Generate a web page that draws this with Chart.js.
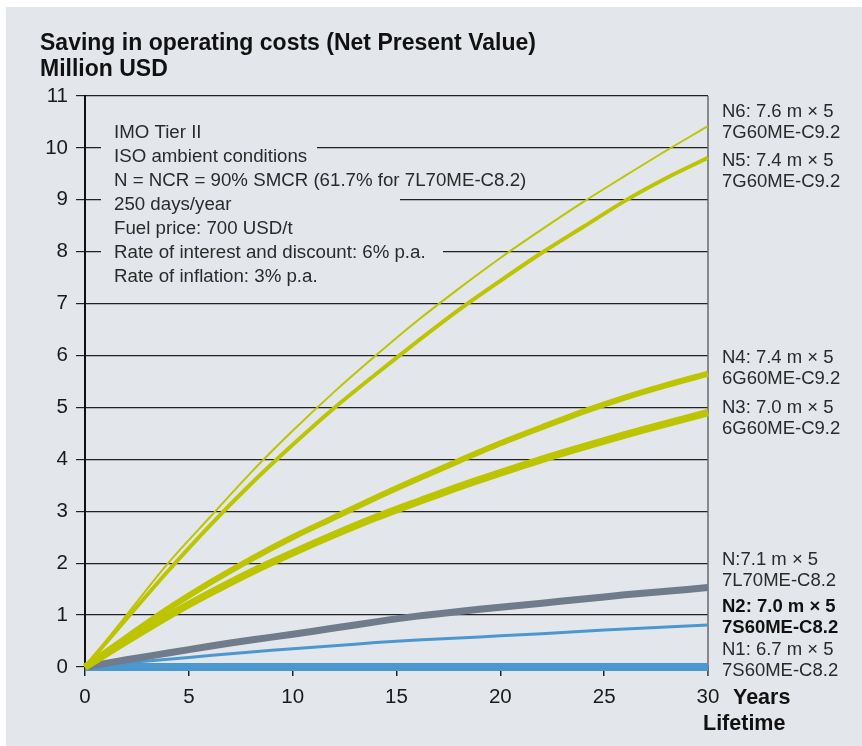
<!DOCTYPE html>
<html>
<head>
<meta charset="utf-8">
<script src="https://cdn.jsdelivr.net/npm/chart.js@4"></script>
<style>
  html, body { margin: 0; padding: 0; background: #fff; }
  #wrap { position: absolute; left: 0; top: 0; width: 862px; height: 746px; }
</style>
</head>
<body>
<div id="wrap"><canvas id="npv"></canvas></div>
<script>
// values (Million USD, net present value)
const years = [0, 2, 4, 6, 8, 10, 12, 14, 16, 18, 20, 22, 24, 26, 28, 30];
const n6 = [0, 1.0, 2.0, 2.88, 3.75, 4.55, 5.30, 6.0, 6.67, 7.29, 7.88, 8.43, 8.96, 9.46, 9.95, 10.42];
const n5 = [0, 0.93, 1.85, 2.72, 3.53, 4.28, 4.99, 5.64, 6.27, 6.88, 7.44, 7.98, 8.48, 8.98, 9.42, 9.81];
const n4 = [0, 0.57, 1.12, 1.62, 2.08, 2.5, 2.88, 3.26, 3.62, 3.97, 4.31, 4.62, 4.92, 5.19, 5.43, 5.65];
const n3 = [0, 0.5, 0.98, 1.42, 1.83, 2.2, 2.55, 2.88, 3.18, 3.47, 3.74, 4.0, 4.24, 4.47, 4.69, 4.9];
const nL70 = [0, 0.14, 0.27, 0.4, 0.52, 0.63, 0.75, 0.87, 0.98, 1.07, 1.15, 1.23, 1.31, 1.39, 1.46, 1.53];
const n2 = [0, 0.08, 0.15, 0.22, 0.29, 0.35, 0.41, 0.47, 0.52, 0.56, 0.6, 0.64, 0.69, 0.73, 0.77, 0.81];
const n1 = [0, 0, 0, 0, 0, 0, 0, 0, 0, 0, 0, 0, 0, 0, 0, 0];

const seriesNames = ["N6", "N5", "N4", "N3", "N 7L70", "N2", "N1"];
const xTicks = [0, 5, 10, 15, 20, 25, 30];
const yMax = 11;

const infoLines = [
  "IMO Tier II",
  "ISO ambient conditions",
  "N = NCR = 90% SMCR (61.7% for 7L70ME-C8.2)",
  "250 days/year",
  "Fuel price: 700 USD/t",
  "Rate of interest and discount: 6% p.a.",
  "Rate of inflation: 3% p.a."
];
const endLabels = [
  ["N6: 7.6 m \u00d7 5", "7G60ME-C9.2"],
  ["N5: 7.4 m \u00d7 5", "7G60ME-C9.2"],
  ["N4: 7.4 m \u00d7 5", "6G60ME-C9.2"],
  ["N3: 7.0 m \u00d7 5", "6G60ME-C9.2"],
  ["N:7.1 m \u00d7 5", "7L70ME-C8.2"],
  ["N2: 7.0 m \u00d7 5", "7S60ME-C8.2"],
  ["N1: 6.7 m \u00d7 5", "7S60ME-C8.2"]
];

const FONT = '"Liberation Sans", Arial, Helvetica, sans-serif';
const GREEN = "#bdc400";
const GREY = "#707b8b";
const BLUE = "#4a98cf";
const PANEL = "#e3e6eb";
const TXT = "#2a2a2a";

function pts(arr) {
  return years.map((y, i) => ({ x: y, y: arr[i] }));
}
function line(label, arr, color, width) {
  return {
    label: label,
    data: pts(arr),
    borderColor: color,
    backgroundColor: color,
    borderWidth: width,
    pointRadius: 0,
    fill: false,
    tension: 0.3,
    borderCapStyle: "butt",
    clip: false
  };
}

const decor = {
  id: "decor",
  beforeDraw(chart) {
    const c = chart.ctx;
    c.save();
    c.fillStyle = "#fff";
    c.fillRect(0, 0, chart.width, chart.height);
    c.fillStyle = PANEL;
    c.fillRect(6, 7, chart.width - 6, chart.height - 7);
    c.restore();
  },
  beforeDatasetsDraw(chart) {
    const c = chart.ctx;
    const a = chart.chartArea;
    const ys = chart.scales.y;
    c.save();
    // gaps in grid lines behind the notes box
    c.fillStyle = PANEL;
    [[10, 317], [9, 400], [8, 443]].forEach(g => {
      const py = ys.getPixelForValue(g[0]);
      c.fillRect(a.left + 16, py - 2, g[1] - a.left - 16, 4);
    });
    // right frame line
    c.strokeStyle = "#6a6a6a";
    c.lineWidth = 1.5;
    c.beginPath();
    c.moveTo(a.right, a.top);
    c.lineTo(a.right, a.bottom + 9);
    c.stroke();
    // notes
    c.fillStyle = TXT;
    c.font = "18.7px " + FONT;
    c.textBaseline = "alphabetic";
    infoLines.forEach((t, i) => c.fillText(t, a.left + 29, 138 + i * 24));
    c.restore();
  },
  afterDraw(chart) {
    const c = chart.ctx;
    const a = chart.chartArea;
    c.save();
    c.fillStyle = "#111";
    c.font = "bold 23px " + FONT;
    c.fillText("Saving in operating costs (Net Present Value)", 40, 50);
    c.fillText("Million USD", 40, 76);
    c.font = "bold 21.5px " + FONT;
    c.fillText("Years", a.right + 25, 704);
    c.fillText("Lifetime", a.right - 5, 730);
    // labels at line ends
    const base = [117, 166, 363, 413, 565, 612, 655];
    endLabels.forEach((l, i) => {
      const bold = i === 5;
      c.fillStyle = bold ? "#111" : TXT;
      c.font = (bold ? "bold " : "") + "18.5px " + FONT;
      c.fillText(l[0], a.right + 14, base[i]);
      c.fillText(l[1], a.right + 14, base[i] + 21);
    });
    c.restore();
  }
};

Chart.defaults.font.family = FONT;

new Chart(document.getElementById("npv"), {
  type: "line",
  data: {
    datasets: [
      line(seriesNames[0], n6, GREEN, 2),
      line(seriesNames[1], n5, GREEN, 4),
      line(seriesNames[2], n4, GREEN, 6),
      line(seriesNames[3], n3, GREEN, 7.5),
      line(seriesNames[4], nL70, GREY, 7),
      line(seriesNames[5], n2, BLUE, 3),
      line(seriesNames[6], n1, BLUE, 8)
    ]
  },
  options: {
    responsive: true,
    maintainAspectRatio: false,
    animation: false,
    layout: { padding: { left: 0, top: 96, right: 154, bottom: 0 } },
    plugins: { legend: { display: false }, tooltip: { enabled: false } },
    scales: {
      x: {
        type: "linear",
        min: 0,
        max: 30,
        afterFit: s => { s.height = 79; },
        afterBuildTicks: s => { s.ticks = xTicks.map(v => ({ value: v })); },
        grid: { drawOnChartArea: false, drawTicks: true, tickLength: 9, color: "#222", lineWidth: 1.5 },
        border: { display: true, color: "#222", width: 1.5 },
        ticks: { color: "#1a1a1a", font: { size: 20.5 }, padding: 9, maxRotation: 0 }
      },
      y: {
        min: 0,
        max: yMax,
        afterFit: s => { s.width = 85; },
        grid: { color: "#222", lineWidth: 1.2, tickLength: 9, drawTicks: true },
        border: { display: true, color: "#111", width: 2 },
        ticks: { stepSize: 1, color: "#1a1a1a", font: { size: 20.5 }, padding: 8 }
      }
    }
  },
  plugins: [decor]
});
</script>
</body>
</html>
